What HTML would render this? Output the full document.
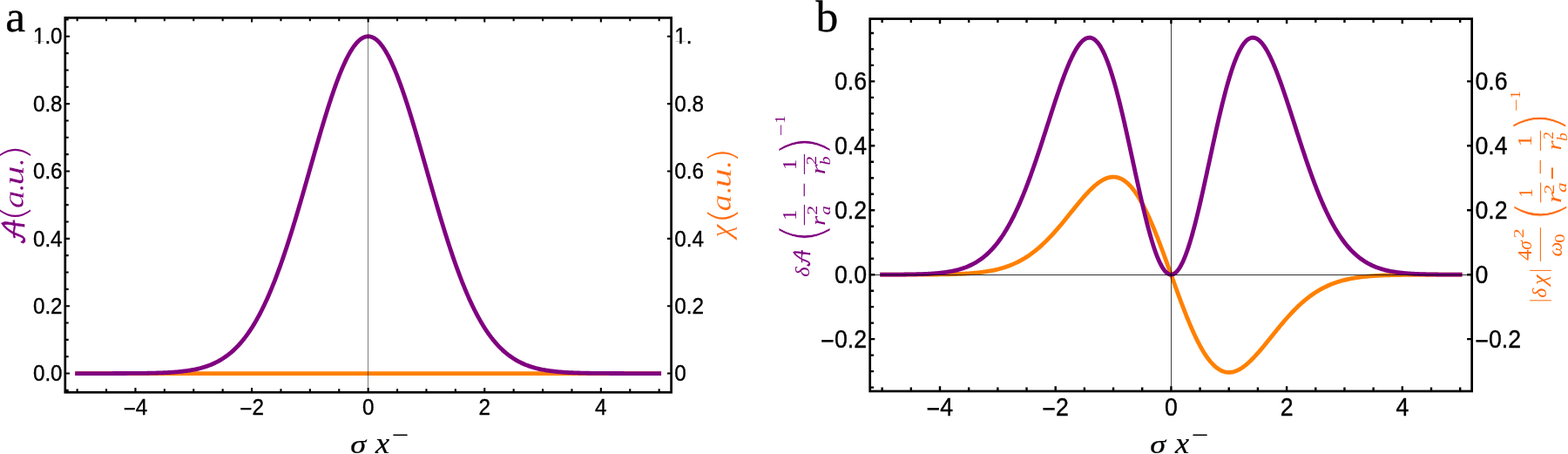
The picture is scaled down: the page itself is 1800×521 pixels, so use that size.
<!DOCTYPE html>
<html><head><meta charset="utf-8"><title>plot</title>
<style>html,body{margin:0;padding:0;background:#fff;}svg{display:block;}</style>
</head><body>
<svg width="1800" height="521" viewBox="0 0 1800 521">
<rect width="1800" height="521" fill="#fff"/>
<polyline fill="none" stroke="#ff8000" stroke-width="4.8" stroke-linecap="square" stroke-linejoin="round" points="88.65,428.55 89.76,428.55 90.88,428.55 91.99,428.55 93.1,428.55 94.22,428.55 95.33,428.55 96.44,428.55 97.56,428.55 98.67,428.55 99.78,428.55 100.9,428.55 102.01,428.55 103.12,428.55 104.24,428.55 105.35,428.55 106.46,428.55 107.58,428.55 108.69,428.55 109.8,428.55 110.92,428.55 112.03,428.55 113.14,428.55 114.26,428.55 115.37,428.55 116.48,428.55 117.6,428.55 118.71,428.55 119.82,428.55 120.94,428.55 122.05,428.55 123.16,428.55 124.28,428.55 125.39,428.55 126.5,428.55 127.62,428.55 128.73,428.55 129.84,428.55 130.96,428.55 132.07,428.55 133.18,428.55 134.3,428.55 135.41,428.55 136.52,428.55 137.64,428.55 138.75,428.55 139.86,428.55 140.98,428.55 142.09,428.55 143.2,428.55 144.32,428.55 145.43,428.55 146.54,428.55 147.66,428.55 148.77,428.55 149.88,428.55 151,428.55 152.11,428.55 153.22,428.55 154.34,428.55 155.45,428.55 156.56,428.55 157.68,428.55 158.79,428.55 159.9,428.55 161.02,428.55 162.13,428.55 163.24,428.55 164.36,428.55 165.47,428.55 166.58,428.55 167.7,428.55 168.81,428.55 169.92,428.55 171.04,428.55 172.15,428.55 173.26,428.55 174.38,428.55 175.49,428.55 176.6,428.55 177.72,428.55 178.83,428.55 179.94,428.55 181.06,428.55 182.17,428.55 183.28,428.55 184.4,428.55 185.51,428.55 186.62,428.55 187.74,428.55 188.85,428.55 189.96,428.55 191.08,428.55 192.19,428.55 193.3,428.55 194.42,428.55 195.53,428.55 196.64,428.55 197.76,428.55 198.87,428.55 199.98,428.55 201.1,428.55 202.21,428.55 203.32,428.55 204.44,428.55 205.55,428.55 206.66,428.55 207.78,428.55 208.89,428.55 210,428.55 211.12,428.55 212.23,428.55 213.34,428.55 214.46,428.55 215.57,428.55 216.68,428.55 217.8,428.55 218.91,428.55 220.02,428.55 221.14,428.55 222.25,428.55 223.36,428.55 224.48,428.55 225.59,428.55 226.7,428.55 227.82,428.55 228.93,428.55 230.04,428.55 231.16,428.55 232.27,428.55 233.38,428.55 234.5,428.55 235.61,428.55 236.72,428.55 237.84,428.55 238.95,428.55 240.06,428.55 241.18,428.55 242.29,428.55 243.4,428.55 244.52,428.55 245.63,428.55 246.74,428.55 247.86,428.55 248.97,428.55 250.08,428.55 251.2,428.55 252.31,428.55 253.42,428.55 254.54,428.55 255.65,428.55 256.76,428.55 257.88,428.55 258.99,428.55 260.1,428.55 261.22,428.55 262.33,428.55 263.44,428.55 264.56,428.55 265.67,428.55 266.78,428.55 267.9,428.55 269.01,428.55 270.12,428.55 271.24,428.55 272.35,428.55 273.46,428.55 274.58,428.55 275.69,428.55 276.8,428.55 277.92,428.55 279.03,428.55 280.14,428.55 281.26,428.55 282.37,428.55 283.48,428.55 284.6,428.55 285.71,428.55 286.82,428.55 287.94,428.55 289.05,428.55 290.16,428.55 291.28,428.55 292.39,428.55 293.5,428.55 294.62,428.55 295.73,428.55 296.84,428.55 297.96,428.55 299.07,428.55 300.18,428.55 301.3,428.55 302.41,428.55 303.52,428.55 304.64,428.55 305.75,428.55 306.86,428.55 307.98,428.55 309.09,428.55 310.2,428.55 311.32,428.55 312.43,428.55 313.54,428.55 314.66,428.55 315.77,428.55 316.88,428.55 318,428.55 319.11,428.55 320.22,428.55 321.34,428.55 322.45,428.55 323.56,428.55 324.68,428.55 325.79,428.55 326.9,428.55 328.02,428.55 329.13,428.55 330.24,428.55 331.36,428.55 332.47,428.55 333.58,428.55 334.7,428.55 335.81,428.55 336.92,428.55 338.04,428.55 339.15,428.55 340.26,428.55 341.38,428.55 342.49,428.55 343.6,428.55 344.72,428.55 345.83,428.55 346.94,428.55 348.06,428.55 349.17,428.55 350.28,428.55 351.4,428.55 352.51,428.55 353.62,428.55 354.74,428.55 355.85,428.55 356.96,428.55 358.08,428.55 359.19,428.55 360.3,428.55 361.42,428.55 362.53,428.55 363.64,428.55 364.76,428.55 365.87,428.55 366.98,428.55 368.1,428.55 369.21,428.55 370.32,428.55 371.44,428.55 372.55,428.55 373.66,428.55 374.78,428.55 375.89,428.55 377,428.55 378.12,428.55 379.23,428.55 380.34,428.55 381.46,428.55 382.57,428.55 383.68,428.55 384.8,428.55 385.91,428.55 387.02,428.55 388.14,428.55 389.25,428.55 390.36,428.55 391.48,428.55 392.59,428.55 393.7,428.55 394.82,428.55 395.93,428.55 397.04,428.55 398.16,428.55 399.27,428.55 400.38,428.55 401.5,428.55 402.61,428.55 403.72,428.55 404.84,428.55 405.95,428.55 407.06,428.55 408.18,428.55 409.29,428.55 410.4,428.55 411.52,428.55 412.63,428.55 413.74,428.55 414.86,428.55 415.97,428.55 417.08,428.55 418.2,428.55 419.31,428.55 420.42,428.55 421.54,428.55 422.65,428.55 423.76,428.55 424.88,428.55 425.99,428.55 427.1,428.55 428.22,428.55 429.33,428.55 430.44,428.55 431.56,428.55 432.67,428.55 433.78,428.55 434.9,428.55 436.01,428.55 437.12,428.55 438.24,428.55 439.35,428.55 440.46,428.55 441.58,428.55 442.69,428.55 443.8,428.55 444.92,428.55 446.03,428.55 447.14,428.55 448.26,428.55 449.37,428.55 450.48,428.55 451.6,428.55 452.71,428.55 453.82,428.55 454.94,428.55 456.05,428.55 457.16,428.55 458.28,428.55 459.39,428.55 460.5,428.55 461.62,428.55 462.73,428.55 463.84,428.55 464.96,428.55 466.07,428.55 467.18,428.55 468.3,428.55 469.41,428.55 470.52,428.55 471.64,428.55 472.75,428.55 473.86,428.55 474.98,428.55 476.09,428.55 477.2,428.55 478.32,428.55 479.43,428.55 480.54,428.55 481.66,428.55 482.77,428.55 483.88,428.55 485,428.55 486.11,428.55 487.22,428.55 488.34,428.55 489.45,428.55 490.56,428.55 491.68,428.55 492.79,428.55 493.9,428.55 495.02,428.55 496.13,428.55 497.24,428.55 498.36,428.55 499.47,428.55 500.58,428.55 501.7,428.55 502.81,428.55 503.92,428.55 505.04,428.55 506.15,428.55 507.26,428.55 508.38,428.55 509.49,428.55 510.6,428.55 511.72,428.55 512.83,428.55 513.94,428.55 515.06,428.55 516.17,428.55 517.28,428.55 518.4,428.55 519.51,428.55 520.62,428.55 521.74,428.55 522.85,428.55 523.96,428.55 525.08,428.55 526.19,428.55 527.3,428.55 528.42,428.55 529.53,428.55 530.64,428.55 531.76,428.55 532.87,428.55 533.98,428.55 535.1,428.55 536.21,428.55 537.32,428.55 538.44,428.55 539.55,428.55 540.66,428.55 541.78,428.55 542.89,428.55 544,428.55 545.12,428.55 546.23,428.55 547.34,428.55 548.46,428.55 549.57,428.55 550.68,428.55 551.8,428.55 552.91,428.55 554.02,428.55 555.14,428.55 556.25,428.55 557.36,428.55 558.48,428.55 559.59,428.55 560.7,428.55 561.82,428.55 562.93,428.55 564.04,428.55 565.16,428.55 566.27,428.55 567.38,428.55 568.5,428.55 569.61,428.55 570.72,428.55 571.84,428.55 572.95,428.55 574.06,428.55 575.18,428.55 576.29,428.55 577.4,428.55 578.52,428.55 579.63,428.55 580.74,428.55 581.86,428.55 582.97,428.55 584.08,428.55 585.2,428.55 586.31,428.55 587.42,428.55 588.54,428.55 589.65,428.55 590.76,428.55 591.88,428.55 592.99,428.55 594.1,428.55 595.22,428.55 596.33,428.55 597.44,428.55 598.56,428.55 599.67,428.55 600.78,428.55 601.9,428.55 603.01,428.55 604.12,428.55 605.24,428.55 606.35,428.55 607.46,428.55 608.58,428.55 609.69,428.55 610.8,428.55 611.92,428.55 613.03,428.55 614.14,428.55 615.26,428.55 616.37,428.55 617.48,428.55 618.6,428.55 619.71,428.55 620.82,428.55 621.94,428.55 623.05,428.55 624.16,428.55 625.28,428.55 626.39,428.55 627.5,428.55 628.62,428.55 629.73,428.55 630.84,428.55 631.96,428.55 633.07,428.55 634.18,428.55 635.3,428.55 636.41,428.55 637.52,428.55 638.64,428.55 639.75,428.55 640.86,428.55 641.98,428.55 643.09,428.55 644.2,428.55 645.32,428.55 646.43,428.55 647.54,428.55 648.66,428.55 649.77,428.55 650.88,428.55 652,428.55 653.11,428.55 654.22,428.55 655.34,428.55 656.45,428.55 657.56,428.55 658.68,428.55 659.79,428.55 660.9,428.55 662.02,428.55 663.13,428.55 664.24,428.55 665.36,428.55 666.47,428.55 667.58,428.55 668.7,428.55 669.81,428.55 670.92,428.55 672.04,428.55 673.15,428.55 674.26,428.55 675.38,428.55 676.49,428.55 677.6,428.55 678.72,428.55 679.83,428.55 680.94,428.55 682.06,428.55 683.17,428.55 684.28,428.55 685.4,428.55 686.51,428.55 687.62,428.55 688.74,428.55 689.85,428.55 690.96,428.55 692.08,428.55 693.19,428.55 694.3,428.55 695.42,428.55 696.53,428.55 697.64,428.55 698.76,428.55 699.87,428.55 700.98,428.55 702.1,428.55 703.21,428.55 704.32,428.55 705.44,428.55 706.55,428.55 707.66,428.55 708.78,428.55 709.89,428.55 711,428.55 712.12,428.55 713.23,428.55 714.34,428.55 715.46,428.55 716.57,428.55 717.68,428.55 718.8,428.55 719.91,428.55 721.02,428.55 722.14,428.55 723.25,428.55 724.36,428.55 725.48,428.55 726.59,428.55 727.7,428.55 728.82,428.55 729.93,428.55 731.04,428.55 732.16,428.55 733.27,428.55 734.38,428.55 735.5,428.55 736.61,428.55 737.72,428.55 738.84,428.55 739.95,428.55 741.06,428.55 742.18,428.55 743.29,428.55 744.4,428.55 745.52,428.55 746.63,428.55 747.74,428.55 748.86,428.55 749.97,428.55 751.08,428.55 752.2,428.55 753.31,428.55 754.42,428.55 755.54,428.55 756.65,428.55"/>
<polyline fill="none" stroke="#800080" stroke-width="4.8" stroke-linecap="square" stroke-linejoin="round" points="88.65,428.55 89.76,428.55 90.88,428.55 91.99,428.55 93.1,428.55 94.22,428.55 95.33,428.55 96.44,428.55 97.56,428.55 98.67,428.55 99.78,428.55 100.9,428.55 102.01,428.55 103.12,428.55 104.24,428.55 105.35,428.55 106.46,428.54 107.58,428.54 108.69,428.54 109.8,428.54 110.92,428.54 112.03,428.54 113.14,428.54 114.26,428.54 115.37,428.54 116.48,428.54 117.6,428.54 118.71,428.54 119.82,428.54 120.94,428.54 122.05,428.53 123.16,428.53 124.28,428.53 125.39,428.53 126.5,428.53 127.62,428.53 128.73,428.53 129.84,428.52 130.96,428.52 132.07,428.52 133.18,428.52 134.3,428.52 135.41,428.51 136.52,428.51 137.64,428.51 138.75,428.5 139.86,428.5 140.98,428.5 142.09,428.49 143.2,428.49 144.32,428.48 145.43,428.48 146.54,428.47 147.66,428.47 148.77,428.46 149.88,428.46 151,428.45 152.11,428.44 153.22,428.44 154.34,428.43 155.45,428.42 156.56,428.41 157.68,428.4 158.79,428.39 159.9,428.38 161.02,428.37 162.13,428.36 163.24,428.34 164.36,428.33 165.47,428.32 166.58,428.3 167.7,428.28 168.81,428.27 169.92,428.25 171.04,428.23 172.15,428.21 173.26,428.19 174.38,428.16 175.49,428.14 176.6,428.11 177.72,428.08 178.83,428.06 179.94,428.02 181.06,427.99 182.17,427.96 183.28,427.92 184.4,427.88 185.51,427.84 186.62,427.8 187.74,427.75 188.85,427.7 189.96,427.65 191.08,427.6 192.19,427.54 193.3,427.48 194.42,427.42 195.53,427.36 196.64,427.29 197.76,427.21 198.87,427.14 199.98,427.05 201.1,426.97 202.21,426.88 203.32,426.79 204.44,426.69 205.55,426.58 206.66,426.47 207.78,426.36 208.89,426.24 210,426.11 211.12,425.98 212.23,425.84 213.34,425.7 214.46,425.54 215.57,425.38 216.68,425.22 217.8,425.04 218.91,424.86 220.02,424.66 221.14,424.46 222.25,424.25 223.36,424.03 224.48,423.8 225.59,423.56 226.7,423.31 227.82,423.05 228.93,422.78 230.04,422.49 231.16,422.2 232.27,421.89 233.38,421.56 234.5,421.23 235.61,420.88 236.72,420.51 237.84,420.13 238.95,419.73 240.06,419.32 241.18,418.89 242.29,418.45 243.4,417.98 244.52,417.5 245.63,417 246.74,416.48 247.86,415.94 248.97,415.38 250.08,414.8 251.2,414.2 252.31,413.57 253.42,412.92 254.54,412.25 255.65,411.56 256.76,410.83 257.88,410.09 258.99,409.32 260.1,408.52 261.22,407.69 262.33,406.84 263.44,405.95 264.56,405.04 265.67,404.1 266.78,403.13 267.9,402.12 269.01,401.09 270.12,400.02 271.24,398.91 272.35,397.78 273.46,396.6 274.58,395.4 275.69,394.16 276.8,392.88 277.92,391.56 279.03,390.2 280.14,388.81 281.26,387.38 282.37,385.91 283.48,384.39 284.6,382.84 285.71,381.24 286.82,379.61 287.94,377.93 289.05,376.2 290.16,374.44 291.28,372.62 292.39,370.77 293.5,368.87 294.62,366.92 295.73,364.93 296.84,362.89 297.96,360.81 299.07,358.68 300.18,356.5 301.3,354.28 302.41,352 303.52,349.68 304.64,347.31 305.75,344.9 306.86,342.43 307.98,339.92 309.09,337.36 310.2,334.76 311.32,332.1 312.43,329.4 313.54,326.65 314.66,323.85 315.77,321.01 316.88,318.11 318,315.18 319.11,312.19 320.22,309.17 321.34,306.09 322.45,302.97 323.56,299.81 324.68,296.61 325.79,293.36 326.9,290.08 328.02,286.75 329.13,283.38 330.24,279.97 331.36,276.53 332.47,273.05 333.58,269.53 334.7,265.98 335.81,262.4 336.92,258.78 338.04,255.14 339.15,251.46 340.26,247.76 341.38,244.03 342.49,240.27 343.6,236.5 344.72,232.7 345.83,228.88 346.94,225.05 348.06,221.19 349.17,217.33 350.28,213.45 351.4,209.56 352.51,205.66 353.62,201.76 354.74,197.85 355.85,193.94 356.96,190.03 358.08,186.13 359.19,182.22 360.3,178.33 361.42,174.44 362.53,170.56 363.64,166.7 364.76,162.85 365.87,159.03 366.98,155.22 368.1,151.43 369.21,147.68 370.32,143.95 371.44,140.25 372.55,136.58 373.66,132.95 374.78,129.35 375.89,125.8 377,122.29 378.12,118.82 379.23,115.41 380.34,112.04 381.46,108.73 382.57,105.47 383.68,102.27 384.8,99.12 385.91,96.04 387.02,93.03 388.14,90.08 389.25,87.2 390.36,84.39 391.48,81.66 392.59,79 393.7,76.41 394.82,73.91 395.93,71.49 397.04,69.15 398.16,66.9 399.27,64.73 400.38,62.65 401.5,60.67 402.61,58.77 403.72,56.97 404.84,55.26 405.95,53.65 407.06,52.14 408.18,50.72 409.29,49.41 410.4,48.2 411.52,47.09 412.63,46.08 413.74,45.17 414.86,44.37 415.97,43.68 417.08,43.09 418.2,42.61 419.31,42.23 420.42,41.96 421.54,41.8 422.65,41.75 423.76,41.8 424.88,41.96 425.99,42.23 427.1,42.61 428.22,43.09 429.33,43.68 430.44,44.37 431.56,45.17 432.67,46.08 433.78,47.09 434.9,48.2 436.01,49.41 437.12,50.72 438.24,52.14 439.35,53.65 440.46,55.26 441.58,56.97 442.69,58.77 443.8,60.67 444.92,62.65 446.03,64.73 447.14,66.9 448.26,69.15 449.37,71.49 450.48,73.91 451.6,76.41 452.71,79 453.82,81.66 454.94,84.39 456.05,87.2 457.16,90.08 458.28,93.03 459.39,96.04 460.5,99.12 461.62,102.27 462.73,105.47 463.84,108.73 464.96,112.04 466.07,115.41 467.18,118.82 468.3,122.29 469.41,125.8 470.52,129.35 471.64,132.95 472.75,136.58 473.86,140.25 474.98,143.95 476.09,147.68 477.2,151.43 478.32,155.22 479.43,159.03 480.54,162.85 481.66,166.7 482.77,170.56 483.88,174.44 485,178.33 486.11,182.22 487.22,186.13 488.34,190.03 489.45,193.94 490.56,197.85 491.68,201.76 492.79,205.66 493.9,209.56 495.02,213.45 496.13,217.33 497.24,221.19 498.36,225.05 499.47,228.88 500.58,232.7 501.7,236.5 502.81,240.27 503.92,244.03 505.04,247.76 506.15,251.46 507.26,255.14 508.38,258.78 509.49,262.4 510.6,265.98 511.72,269.53 512.83,273.05 513.94,276.53 515.06,279.97 516.17,283.38 517.28,286.75 518.4,290.08 519.51,293.36 520.62,296.61 521.74,299.81 522.85,302.97 523.96,306.09 525.08,309.17 526.19,312.19 527.3,315.18 528.42,318.11 529.53,321.01 530.64,323.85 531.76,326.65 532.87,329.4 533.98,332.1 535.1,334.76 536.21,337.36 537.32,339.92 538.44,342.43 539.55,344.9 540.66,347.31 541.78,349.68 542.89,352 544,354.28 545.12,356.5 546.23,358.68 547.34,360.81 548.46,362.89 549.57,364.93 550.68,366.92 551.8,368.87 552.91,370.77 554.02,372.62 555.14,374.44 556.25,376.2 557.36,377.93 558.48,379.61 559.59,381.24 560.7,382.84 561.82,384.39 562.93,385.91 564.04,387.38 565.16,388.81 566.27,390.2 567.38,391.56 568.5,392.88 569.61,394.16 570.72,395.4 571.84,396.6 572.95,397.78 574.06,398.91 575.18,400.02 576.29,401.09 577.4,402.12 578.52,403.13 579.63,404.1 580.74,405.04 581.86,405.95 582.97,406.84 584.08,407.69 585.2,408.52 586.31,409.32 587.42,410.09 588.54,410.83 589.65,411.56 590.76,412.25 591.88,412.92 592.99,413.57 594.1,414.2 595.22,414.8 596.33,415.38 597.44,415.94 598.56,416.48 599.67,417 600.78,417.5 601.9,417.98 603.01,418.45 604.12,418.89 605.24,419.32 606.35,419.73 607.46,420.13 608.58,420.51 609.69,420.88 610.8,421.23 611.92,421.56 613.03,421.89 614.14,422.2 615.26,422.49 616.37,422.78 617.48,423.05 618.6,423.31 619.71,423.56 620.82,423.8 621.94,424.03 623.05,424.25 624.16,424.46 625.28,424.66 626.39,424.86 627.5,425.04 628.62,425.22 629.73,425.38 630.84,425.54 631.96,425.7 633.07,425.84 634.18,425.98 635.3,426.11 636.41,426.24 637.52,426.36 638.64,426.47 639.75,426.58 640.86,426.69 641.98,426.79 643.09,426.88 644.2,426.97 645.32,427.05 646.43,427.14 647.54,427.21 648.66,427.29 649.77,427.36 650.88,427.42 652,427.48 653.11,427.54 654.22,427.6 655.34,427.65 656.45,427.7 657.56,427.75 658.68,427.8 659.79,427.84 660.9,427.88 662.02,427.92 663.13,427.96 664.24,427.99 665.36,428.02 666.47,428.06 667.58,428.08 668.7,428.11 669.81,428.14 670.92,428.16 672.04,428.19 673.15,428.21 674.26,428.23 675.38,428.25 676.49,428.27 677.6,428.28 678.72,428.3 679.83,428.32 680.94,428.33 682.06,428.34 683.17,428.36 684.28,428.37 685.4,428.38 686.51,428.39 687.62,428.4 688.74,428.41 689.85,428.42 690.96,428.43 692.08,428.44 693.19,428.44 694.3,428.45 695.42,428.46 696.53,428.46 697.64,428.47 698.76,428.47 699.87,428.48 700.98,428.48 702.1,428.49 703.21,428.49 704.32,428.5 705.44,428.5 706.55,428.5 707.66,428.51 708.78,428.51 709.89,428.51 711,428.52 712.12,428.52 713.23,428.52 714.34,428.52 715.46,428.52 716.57,428.53 717.68,428.53 718.8,428.53 719.91,428.53 721.02,428.53 722.14,428.53 723.25,428.53 724.36,428.54 725.48,428.54 726.59,428.54 727.7,428.54 728.82,428.54 729.93,428.54 731.04,428.54 732.16,428.54 733.27,428.54 734.38,428.54 735.5,428.54 736.61,428.54 737.72,428.54 738.84,428.54 739.95,428.55 741.06,428.55 742.18,428.55 743.29,428.55 744.4,428.55 745.52,428.55 746.63,428.55 747.74,428.55 748.86,428.55 749.97,428.55 751.08,428.55 752.2,428.55 753.31,428.55 754.42,428.55 755.54,428.55 756.65,428.55"/>
<rect x="422" y="21.4" width="1" height="427.85" fill="#000" fill-opacity="0.5"/>
<path d="M155.45 450.25L155.45 445.05 M155.45 20.4L155.45 25.6 M289.05 450.25L289.05 445.05 M289.05 20.4L289.05 25.6 M422.65 450.25L422.65 445.05 M422.65 20.4L422.65 25.6 M556.25 450.25L556.25 445.05 M556.25 20.4L556.25 25.6 M689.85 450.25L689.85 445.05 M689.85 20.4L689.85 25.6 M88.65 450.25L88.65 446.35 M88.65 20.4L88.65 24.3 M122.05 450.25L122.05 446.35 M122.05 20.4L122.05 24.3 M188.85 450.25L188.85 446.35 M188.85 20.4L188.85 24.3 M222.25 450.25L222.25 446.35 M222.25 20.4L222.25 24.3 M255.65 450.25L255.65 446.35 M255.65 20.4L255.65 24.3 M322.45 450.25L322.45 446.35 M322.45 20.4L322.45 24.3 M355.85 450.25L355.85 446.35 M355.85 20.4L355.85 24.3 M389.25 450.25L389.25 446.35 M389.25 20.4L389.25 24.3 M456.05 450.25L456.05 446.35 M456.05 20.4L456.05 24.3 M489.45 450.25L489.45 446.35 M489.45 20.4L489.45 24.3 M522.85 450.25L522.85 446.35 M522.85 20.4L522.85 24.3 M589.65 450.25L589.65 446.35 M589.65 20.4L589.65 24.3 M623.05 450.25L623.05 446.35 M623.05 20.4L623.05 24.3 M656.45 450.25L656.45 446.35 M656.45 20.4L656.45 24.3 M723.25 450.25L723.25 446.35 M723.25 20.4L723.25 24.3 M756.65 450.25L756.65 446.35 M756.65 20.4L756.65 24.3 M74.8 428.55L80 428.55 M770.6 428.55L766 428.55 M74.8 351.19L80 351.19 M770.6 351.19L766 351.19 M74.8 273.83L80 273.83 M770.6 273.83L766 273.83 M74.8 196.47L80 196.47 M770.6 196.47L766 196.47 M74.8 119.11L80 119.11 M770.6 119.11L766 119.11 M74.8 41.75L80 41.75 M770.6 41.75L766 41.75 M74.8 447.89L78.7 447.89 M74.8 409.21L78.7 409.21 M74.8 389.87L78.7 389.87 M74.8 370.53L78.7 370.53 M74.8 331.85L78.7 331.85 M74.8 312.51L78.7 312.51 M74.8 293.17L78.7 293.17 M74.8 254.49L78.7 254.49 M74.8 235.15L78.7 235.15 M74.8 215.81L78.7 215.81 M74.8 177.13L78.7 177.13 M74.8 157.79L78.7 157.79 M74.8 138.45L78.7 138.45 M74.8 99.77L78.7 99.77 M74.8 80.43L78.7 80.43 M74.8 61.09L78.7 61.09 M74.8 22.41L78.7 22.41" stroke="#000" stroke-width="2.1" fill="none"/>
<rect x="74.8" y="20.4" width="695.8" height="429.85" fill="none" stroke="#000" stroke-width="2.7"/>
<text transform="translate(71.6 437.25) scale(1.01 1.09)" font-size="24" text-anchor="end" stroke="#000" stroke-width="0.35" font-family="Liberation Sans, Arial, sans-serif">0.0</text>
<text transform="translate(71.6 359.89) scale(1.01 1.09)" font-size="24" text-anchor="end" stroke="#000" stroke-width="0.35" font-family="Liberation Sans, Arial, sans-serif">0.2</text>
<text transform="translate(71.6 282.53) scale(1.01 1.09)" font-size="24" text-anchor="end" stroke="#000" stroke-width="0.35" font-family="Liberation Sans, Arial, sans-serif">0.4</text>
<text transform="translate(71.6 205.17) scale(1.01 1.09)" font-size="24" text-anchor="end" stroke="#000" stroke-width="0.35" font-family="Liberation Sans, Arial, sans-serif">0.6</text>
<text transform="translate(71.6 127.81) scale(1.01 1.09)" font-size="24" text-anchor="end" stroke="#000" stroke-width="0.35" font-family="Liberation Sans, Arial, sans-serif">0.8</text>
<text transform="translate(71.6 50.45) scale(1.01 1.09)" font-size="24" text-anchor="end" stroke="#000" stroke-width="0.35" font-family="Liberation Sans, Arial, sans-serif">1.0</text>
<text transform="translate(774.2 437.25) scale(1.01 1.09)" font-size="24" text-anchor="start" stroke="#000" stroke-width="0.35" font-family="Liberation Sans, Arial, sans-serif">0</text>
<text transform="translate(774.2 359.89) scale(1.01 1.09)" font-size="24" text-anchor="start" stroke="#000" stroke-width="0.35" font-family="Liberation Sans, Arial, sans-serif">0.2</text>
<text transform="translate(774.2 282.53) scale(1.01 1.09)" font-size="24" text-anchor="start" stroke="#000" stroke-width="0.35" font-family="Liberation Sans, Arial, sans-serif">0.4</text>
<text transform="translate(774.2 205.17) scale(1.01 1.09)" font-size="24" text-anchor="start" stroke="#000" stroke-width="0.35" font-family="Liberation Sans, Arial, sans-serif">0.6</text>
<text transform="translate(774.2 127.81) scale(1.01 1.09)" font-size="24" text-anchor="start" stroke="#000" stroke-width="0.35" font-family="Liberation Sans, Arial, sans-serif">0.8</text>
<text transform="translate(774.2 50.45) scale(1.01 1.09)" font-size="24" text-anchor="start" stroke="#000" stroke-width="0.35" font-family="Liberation Sans, Arial, sans-serif">1.</text>
<text transform="translate(155.45 475.8) scale(1.01 1.09)" font-size="24" text-anchor="middle" stroke="#000" stroke-width="0.35" font-family="Liberation Sans, Arial, sans-serif"><tspan dy="2.1">−</tspan><tspan dy="-2.1">4</tspan></text>
<text transform="translate(289.05 475.8) scale(1.01 1.09)" font-size="24" text-anchor="middle" stroke="#000" stroke-width="0.35" font-family="Liberation Sans, Arial, sans-serif"><tspan dy="2.1">−</tspan><tspan dy="-2.1">2</tspan></text>
<text transform="translate(422.65 475.8) scale(1.01 1.09)" font-size="24" text-anchor="middle" stroke="#000" stroke-width="0.35" font-family="Liberation Sans, Arial, sans-serif">0</text>
<text transform="translate(556.25 475.8) scale(1.01 1.09)" font-size="24" text-anchor="middle" stroke="#000" stroke-width="0.35" font-family="Liberation Sans, Arial, sans-serif">2</text>
<text transform="translate(689.85 475.8) scale(1.01 1.09)" font-size="24" text-anchor="middle" stroke="#000" stroke-width="0.35" font-family="Liberation Sans, Arial, sans-serif">4</text>
<rect x="38.97" y="48" width="4.85" height="3" fill="#fff"/>
<rect x="46.32" y="48" width="4.72" height="3" fill="#fff"/>
<rect x="775.27" y="48" width="4.85" height="3" fill="#fff"/>
<rect x="782.62" y="48" width="4.72" height="3" fill="#fff"/>
<polyline fill="none" stroke="#ff8000" stroke-width="4.8" stroke-linecap="square" stroke-linejoin="round" points="1012.65,315.2 1013.76,315.2 1014.86,315.2 1015.97,315.2 1017.07,315.2 1018.18,315.19 1019.29,315.19 1020.39,315.19 1021.5,315.19 1022.6,315.19 1023.71,315.19 1024.81,315.19 1025.92,315.19 1027.03,315.19 1028.13,315.19 1029.24,315.19 1030.34,315.19 1031.45,315.19 1032.56,315.19 1033.66,315.19 1034.77,315.18 1035.87,315.18 1036.98,315.18 1038.08,315.18 1039.19,315.18 1040.3,315.18 1041.4,315.18 1042.51,315.17 1043.61,315.17 1044.72,315.17 1045.83,315.17 1046.93,315.16 1048.04,315.16 1049.14,315.16 1050.25,315.16 1051.35,315.15 1052.46,315.15 1053.57,315.15 1054.67,315.14 1055.78,315.14 1056.88,315.13 1057.99,315.13 1059.1,315.12 1060.2,315.12 1061.31,315.11 1062.41,315.11 1063.52,315.1 1064.62,315.09 1065.73,315.09 1066.84,315.08 1067.94,315.07 1069.05,315.06 1070.15,315.05 1071.26,315.04 1072.37,315.03 1073.47,315.02 1074.58,315.01 1075.68,314.99 1076.79,314.98 1077.89,314.97 1079,314.95 1080.11,314.94 1081.21,314.92 1082.32,314.9 1083.42,314.88 1084.53,314.86 1085.64,314.84 1086.74,314.82 1087.85,314.79 1088.95,314.77 1090.06,314.74 1091.16,314.72 1092.27,314.69 1093.38,314.65 1094.48,314.62 1095.59,314.59 1096.69,314.55 1097.8,314.51 1098.91,314.47 1100.01,314.43 1101.12,314.38 1102.22,314.34 1103.33,314.29 1104.43,314.23 1105.54,314.18 1106.65,314.12 1107.75,314.06 1108.86,314 1109.96,313.93 1111.07,313.86 1112.18,313.78 1113.28,313.71 1114.39,313.63 1115.49,313.54 1116.6,313.45 1117.7,313.36 1118.81,313.26 1119.92,313.16 1121.02,313.05 1122.13,312.94 1123.23,312.82 1124.34,312.69 1125.45,312.57 1126.55,312.43 1127.66,312.29 1128.76,312.14 1129.87,311.99 1130.97,311.83 1132.08,311.67 1133.19,311.49 1134.29,311.31 1135.4,311.12 1136.5,310.93 1137.61,310.72 1138.72,310.51 1139.82,310.29 1140.93,310.06 1142.03,309.82 1143.14,309.57 1144.24,309.31 1145.35,309.04 1146.46,308.76 1147.56,308.47 1148.67,308.17 1149.77,307.86 1150.88,307.54 1151.99,307.2 1153.09,306.85 1154.2,306.5 1155.3,306.12 1156.41,305.74 1157.51,305.34 1158.62,304.93 1159.73,304.51 1160.83,304.07 1161.94,303.61 1163.04,303.14 1164.15,302.66 1165.26,302.16 1166.36,301.65 1167.47,301.12 1168.57,300.57 1169.68,300.01 1170.78,299.43 1171.89,298.84 1173,298.22 1174.1,297.59 1175.21,296.95 1176.31,296.28 1177.42,295.6 1178.53,294.9 1179.63,294.18 1180.74,293.44 1181.84,292.68 1182.95,291.9 1184.05,291.11 1185.16,290.3 1186.27,289.46 1187.37,288.61 1188.48,287.74 1189.58,286.85 1190.69,285.94 1191.8,285.01 1192.9,284.06 1194.01,283.1 1195.11,282.11 1196.22,281.1 1197.32,280.08 1198.43,279.04 1199.54,277.98 1200.64,276.9 1201.75,275.8 1202.85,274.68 1203.96,273.55 1205.07,272.4 1206.17,271.24 1207.28,270.05 1208.38,268.85 1209.49,267.64 1210.59,266.41 1211.7,265.17 1212.81,263.91 1213.91,262.64 1215.02,261.35 1216.12,260.06 1217.23,258.75 1218.34,257.43 1219.44,256.11 1220.55,254.77 1221.65,253.43 1222.76,252.07 1223.86,250.72 1224.97,249.35 1226.08,247.99 1227.18,246.61 1228.29,245.24 1229.39,243.87 1230.5,242.49 1231.61,241.12 1232.71,239.75 1233.82,238.38 1234.92,237.02 1236.03,235.66 1237.13,234.31 1238.24,232.97 1239.35,231.64 1240.45,230.32 1241.56,229.01 1242.66,227.72 1243.77,226.44 1244.88,225.18 1245.98,223.94 1247.09,222.72 1248.19,221.52 1249.3,220.35 1250.4,219.2 1251.51,218.07 1252.62,216.98 1253.72,215.91 1254.83,214.88 1255.93,213.87 1257.04,212.91 1258.15,211.98 1259.25,211.08 1260.36,210.23 1261.46,209.41 1262.57,208.64 1263.67,207.91 1264.78,207.23 1265.89,206.59 1266.99,206 1268.1,205.47 1269.2,204.98 1270.31,204.54 1271.42,204.16 1272.52,203.84 1273.63,203.57 1274.73,203.36 1275.84,203.21 1276.94,203.11 1278.05,203.08 1279.16,203.11 1280.26,203.21 1281.37,203.37 1282.47,203.59 1283.58,203.88 1284.69,204.24 1285.79,204.66 1286.9,205.16 1288,205.72 1289.11,206.35 1290.21,207.05 1291.32,207.82 1292.43,208.66 1293.53,209.57 1294.64,210.55 1295.74,211.6 1296.85,212.73 1297.96,213.92 1299.06,215.19 1300.17,216.52 1301.27,217.93 1302.38,219.4 1303.48,220.95 1304.59,222.56 1305.7,224.24 1306.8,225.99 1307.91,227.8 1309.01,229.68 1310.12,231.63 1311.23,233.64 1312.33,235.71 1313.44,237.84 1314.54,240.03 1315.65,242.28 1316.75,244.58 1317.86,246.94 1318.97,249.36 1320.07,251.83 1321.18,254.35 1322.28,256.91 1323.39,259.53 1324.5,262.19 1325.6,264.89 1326.71,267.63 1327.81,270.41 1328.92,273.23 1330.02,276.08 1331.13,278.96 1332.24,281.88 1333.34,284.82 1334.45,287.78 1335.55,290.77 1336.66,293.78 1337.77,296.81 1338.87,299.85 1339.98,302.9 1341.08,305.97 1342.19,309.04 1343.29,312.12 1344.4,315.2 1345.51,318.28 1346.61,321.36 1347.72,324.43 1348.82,327.5 1349.93,330.55 1351.04,333.59 1352.14,336.62 1353.25,339.63 1354.35,342.62 1355.46,345.58 1356.56,348.52 1357.67,351.44 1358.78,354.32 1359.88,357.17 1360.99,359.99 1362.09,362.77 1363.2,365.51 1364.31,368.21 1365.41,370.87 1366.52,373.49 1367.62,376.05 1368.73,378.57 1369.83,381.04 1370.94,383.46 1372.05,385.82 1373.15,388.12 1374.26,390.37 1375.36,392.56 1376.47,394.69 1377.58,396.76 1378.68,398.77 1379.79,400.72 1380.89,402.6 1382,404.41 1383.1,406.16 1384.21,407.84 1385.32,409.45 1386.42,411 1387.53,412.47 1388.63,413.88 1389.74,415.21 1390.85,416.48 1391.95,417.67 1393.06,418.8 1394.16,419.85 1395.27,420.83 1396.37,421.74 1397.48,422.58 1398.59,423.35 1399.69,424.05 1400.8,424.68 1401.9,425.24 1403.01,425.74 1404.12,426.16 1405.22,426.52 1406.33,426.81 1407.43,427.03 1408.54,427.19 1409.64,427.29 1410.75,427.32 1411.86,427.29 1412.96,427.19 1414.07,427.04 1415.17,426.83 1416.28,426.56 1417.38,426.24 1418.49,425.86 1419.6,425.42 1420.7,424.93 1421.81,424.4 1422.91,423.81 1424.02,423.17 1425.13,422.49 1426.23,421.76 1427.34,420.99 1428.44,420.17 1429.55,419.32 1430.65,418.42 1431.76,417.49 1432.87,416.53 1433.97,415.52 1435.08,414.49 1436.18,413.42 1437.29,412.33 1438.4,411.2 1439.5,410.05 1440.61,408.88 1441.71,407.68 1442.82,406.46 1443.93,405.22 1445.03,403.96 1446.14,402.68 1447.24,401.39 1448.35,400.08 1449.45,398.76 1450.56,397.43 1451.67,396.09 1452.77,394.74 1453.88,393.38 1454.98,392.02 1456.09,390.65 1457.2,389.28 1458.3,387.91 1459.41,386.53 1460.51,385.16 1461.62,383.79 1462.72,382.41 1463.83,381.05 1464.94,379.68 1466.04,378.33 1467.15,376.97 1468.25,375.63 1469.36,374.29 1470.47,372.97 1471.57,371.65 1472.68,370.34 1473.78,369.05 1474.89,367.76 1475.99,366.49 1477.1,365.23 1478.21,363.99 1479.31,362.76 1480.42,361.55 1481.52,360.35 1482.63,359.16 1483.74,358 1484.84,356.85 1485.95,355.72 1487.05,354.6 1488.16,353.5 1489.26,352.42 1490.37,351.36 1491.48,350.32 1492.58,349.3 1493.69,348.29 1494.79,347.3 1495.9,346.34 1497.01,345.39 1498.11,344.46 1499.22,343.55 1500.32,342.66 1501.43,341.79 1502.53,340.94 1503.64,340.1 1504.75,339.29 1505.85,338.5 1506.96,337.72 1508.06,336.96 1509.17,336.22 1510.28,335.5 1511.38,334.8 1512.49,334.12 1513.59,333.45 1514.7,332.81 1515.8,332.18 1516.91,331.56 1518.02,330.97 1519.12,330.39 1520.23,329.83 1521.33,329.28 1522.44,328.75 1523.55,328.24 1524.65,327.74 1525.76,327.26 1526.86,326.79 1527.97,326.33 1529.07,325.89 1530.18,325.47 1531.29,325.06 1532.39,324.66 1533.5,324.28 1534.6,323.9 1535.71,323.55 1536.82,323.2 1537.92,322.86 1539.03,322.54 1540.13,322.23 1541.24,321.93 1542.34,321.64 1543.45,321.36 1544.56,321.09 1545.66,320.83 1546.77,320.58 1547.87,320.34 1548.98,320.11 1550.09,319.89 1551.19,319.68 1552.3,319.47 1553.4,319.28 1554.51,319.09 1555.61,318.91 1556.72,318.73 1557.83,318.57 1558.93,318.41 1560.04,318.26 1561.14,318.11 1562.25,317.97 1563.36,317.83 1564.46,317.71 1565.57,317.58 1566.67,317.46 1567.78,317.35 1568.88,317.24 1569.99,317.14 1571.1,317.04 1572.2,316.95 1573.31,316.86 1574.41,316.77 1575.52,316.69 1576.62,316.62 1577.73,316.54 1578.84,316.47 1579.94,316.4 1581.05,316.34 1582.15,316.28 1583.26,316.22 1584.37,316.17 1585.47,316.11 1586.58,316.06 1587.68,316.02 1588.79,315.97 1589.89,315.93 1591,315.89 1592.11,315.85 1593.21,315.81 1594.32,315.78 1595.42,315.75 1596.53,315.71 1597.64,315.68 1598.74,315.66 1599.85,315.63 1600.95,315.61 1602.06,315.58 1603.16,315.56 1604.27,315.54 1605.38,315.52 1606.48,315.5 1607.59,315.48 1608.69,315.46 1609.8,315.45 1610.91,315.43 1612.01,315.42 1613.12,315.41 1614.22,315.39 1615.33,315.38 1616.43,315.37 1617.54,315.36 1618.65,315.35 1619.75,315.34 1620.86,315.33 1621.96,315.32 1623.07,315.31 1624.18,315.31 1625.28,315.3 1626.39,315.29 1627.49,315.29 1628.6,315.28 1629.71,315.28 1630.81,315.27 1631.92,315.27 1633.02,315.26 1634.13,315.26 1635.23,315.25 1636.34,315.25 1637.45,315.25 1638.55,315.24 1639.66,315.24 1640.76,315.24 1641.87,315.24 1642.98,315.23 1644.08,315.23 1645.19,315.23 1646.29,315.23 1647.4,315.22 1648.5,315.22 1649.61,315.22 1650.72,315.22 1651.82,315.22 1652.93,315.22 1654.03,315.22 1655.14,315.21 1656.24,315.21 1657.35,315.21 1658.46,315.21 1659.56,315.21 1660.67,315.21 1661.77,315.21 1662.88,315.21 1663.99,315.21 1665.09,315.21 1666.2,315.21 1667.3,315.21 1668.41,315.21 1669.52,315.21 1670.62,315.21 1671.73,315.2 1672.83,315.2 1673.94,315.2 1675.04,315.2 1676.15,315.2"/>
<polyline fill="none" stroke="#800080" stroke-width="4.8" stroke-linecap="square" stroke-linejoin="round" points="1012.65,315.17 1013.76,315.16 1014.86,315.16 1015.97,315.16 1017.07,315.15 1018.18,315.15 1019.29,315.15 1020.39,315.14 1021.5,315.14 1022.6,315.13 1023.71,315.13 1024.81,315.12 1025.92,315.12 1027.03,315.11 1028.13,315.1 1029.24,315.09 1030.34,315.09 1031.45,315.08 1032.56,315.07 1033.66,315.06 1034.77,315.05 1035.87,315.04 1036.98,315.03 1038.08,315.01 1039.19,315 1040.3,314.99 1041.4,314.97 1042.51,314.96 1043.61,314.94 1044.72,314.92 1045.83,314.9 1046.93,314.88 1048.04,314.86 1049.14,314.83 1050.25,314.81 1051.35,314.78 1052.46,314.75 1053.57,314.72 1054.67,314.69 1055.78,314.66 1056.88,314.62 1057.99,314.58 1059.1,314.54 1060.2,314.5 1061.31,314.45 1062.41,314.4 1063.52,314.35 1064.62,314.29 1065.73,314.24 1066.84,314.17 1067.94,314.11 1069.05,314.04 1070.15,313.97 1071.26,313.89 1072.37,313.81 1073.47,313.72 1074.58,313.63 1075.68,313.54 1076.79,313.44 1077.89,313.33 1079,313.22 1080.11,313.1 1081.21,312.97 1082.32,312.84 1083.42,312.7 1084.53,312.55 1085.64,312.4 1086.74,312.24 1087.85,312.07 1088.95,311.89 1090.06,311.7 1091.16,311.5 1092.27,311.29 1093.38,311.07 1094.48,310.85 1095.59,310.61 1096.69,310.35 1097.8,310.09 1098.91,309.81 1100.01,309.52 1101.12,309.22 1102.22,308.9 1103.33,308.56 1104.43,308.22 1105.54,307.85 1106.65,307.47 1107.75,307.07 1108.86,306.66 1109.96,306.22 1111.07,305.77 1112.18,305.29 1113.28,304.8 1114.39,304.28 1115.49,303.75 1116.6,303.19 1117.7,302.61 1118.81,302 1119.92,301.37 1121.02,300.71 1122.13,300.03 1123.23,299.32 1124.34,298.58 1125.45,297.82 1126.55,297.02 1127.66,296.2 1128.76,295.34 1129.87,294.45 1130.97,293.53 1132.08,292.58 1133.19,291.59 1134.29,290.57 1135.4,289.51 1136.5,288.41 1137.61,287.28 1138.72,286.11 1139.82,284.9 1140.93,283.65 1142.03,282.36 1143.14,281.03 1144.24,279.65 1145.35,278.24 1146.46,276.78 1147.56,275.27 1148.67,273.73 1149.77,272.13 1150.88,270.49 1151.99,268.81 1153.09,267.08 1154.2,265.3 1155.3,263.47 1156.41,261.59 1157.51,259.67 1158.62,257.69 1159.73,255.67 1160.83,253.59 1161.94,251.47 1163.04,249.3 1164.15,247.07 1165.26,244.8 1166.36,242.48 1167.47,240.1 1168.57,237.68 1169.68,235.2 1170.78,232.68 1171.89,230.11 1173,227.49 1174.1,224.82 1175.21,222.1 1176.31,219.34 1177.42,216.53 1178.53,213.68 1179.63,210.78 1180.74,207.84 1181.84,204.85 1182.95,201.83 1184.05,198.77 1185.16,195.66 1186.27,192.52 1187.37,189.35 1188.48,186.14 1189.58,182.9 1190.69,179.63 1191.8,176.33 1192.9,173.01 1194.01,169.66 1195.11,166.3 1196.22,162.91 1197.32,159.51 1198.43,156.09 1199.54,152.66 1200.64,149.22 1201.75,145.78 1202.85,142.34 1203.96,138.89 1205.07,135.45 1206.17,132.02 1207.28,128.59 1208.38,125.18 1209.49,121.79 1210.59,118.42 1211.7,115.07 1212.81,111.75 1213.91,108.46 1215.02,105.2 1216.12,101.99 1217.23,98.81 1218.34,95.69 1219.44,92.62 1220.55,89.6 1221.65,86.64 1222.76,83.74 1223.86,80.91 1224.97,78.15 1226.08,75.47 1227.18,72.86 1228.29,70.34 1229.39,67.91 1230.5,65.57 1231.61,63.32 1232.71,61.17 1233.82,59.13 1234.92,57.19 1236.03,55.36 1237.13,53.65 1238.24,52.06 1239.35,50.58 1240.45,49.23 1241.56,48.01 1242.66,46.92 1243.77,45.97 1244.88,45.15 1245.98,44.47 1247.09,43.93 1248.19,43.54 1249.3,43.29 1250.4,43.19 1251.51,43.25 1252.62,43.45 1253.72,43.81 1254.83,44.33 1255.93,45 1257.04,45.83 1258.15,46.82 1259.25,47.96 1260.36,49.27 1261.46,50.73 1262.57,52.35 1263.67,54.13 1264.78,56.07 1265.89,58.16 1266.99,60.41 1268.1,62.81 1269.2,65.37 1270.31,68.07 1271.42,70.92 1272.52,73.92 1273.63,77.05 1274.73,80.33 1275.84,83.75 1276.94,87.29 1278.05,90.97 1279.16,94.76 1280.26,98.68 1281.37,102.72 1282.47,106.86 1283.58,111.12 1284.69,115.47 1285.79,119.92 1286.9,124.46 1288,129.08 1289.11,133.78 1290.21,138.55 1291.32,143.39 1292.43,148.28 1293.53,153.23 1294.64,158.23 1295.74,163.26 1296.85,168.32 1297.96,173.41 1299.06,178.52 1300.17,183.63 1301.27,188.75 1302.38,193.86 1303.48,198.96 1304.59,204.03 1305.7,209.08 1306.8,214.09 1307.91,219.06 1309.01,223.98 1310.12,228.84 1311.23,233.64 1312.33,238.36 1313.44,242.99 1314.54,247.54 1315.65,252 1316.75,256.35 1317.86,260.6 1318.97,264.72 1320.07,268.73 1321.18,272.6 1322.28,276.34 1323.39,279.94 1324.5,283.39 1325.6,286.69 1326.71,289.83 1327.81,292.8 1328.92,295.61 1330.02,298.25 1331.13,300.7 1332.24,302.98 1333.34,305.07 1334.45,306.97 1335.55,308.69 1336.66,310.2 1337.77,311.52 1338.87,312.64 1339.98,313.56 1341.08,314.28 1342.19,314.79 1343.29,315.1 1344.4,315.2 1345.51,315.1 1346.61,314.79 1347.72,314.28 1348.82,313.56 1349.93,312.64 1351.04,311.52 1352.14,310.2 1353.25,308.69 1354.35,306.97 1355.46,305.07 1356.56,302.98 1357.67,300.7 1358.78,298.25 1359.88,295.61 1360.99,292.8 1362.09,289.83 1363.2,286.69 1364.31,283.39 1365.41,279.94 1366.52,276.34 1367.62,272.6 1368.73,268.73 1369.83,264.72 1370.94,260.6 1372.05,256.35 1373.15,252 1374.26,247.54 1375.36,242.99 1376.47,238.36 1377.58,233.64 1378.68,228.84 1379.79,223.98 1380.89,219.06 1382,214.09 1383.1,209.08 1384.21,204.03 1385.32,198.96 1386.42,193.86 1387.53,188.75 1388.63,183.63 1389.74,178.52 1390.85,173.41 1391.95,168.32 1393.06,163.26 1394.16,158.23 1395.27,153.23 1396.37,148.28 1397.48,143.39 1398.59,138.55 1399.69,133.78 1400.8,129.08 1401.9,124.46 1403.01,119.92 1404.12,115.47 1405.22,111.12 1406.33,106.86 1407.43,102.72 1408.54,98.68 1409.64,94.76 1410.75,90.97 1411.86,87.29 1412.96,83.75 1414.07,80.33 1415.17,77.05 1416.28,73.92 1417.38,70.92 1418.49,68.07 1419.6,65.37 1420.7,62.81 1421.81,60.41 1422.91,58.16 1424.02,56.07 1425.13,54.13 1426.23,52.35 1427.34,50.73 1428.44,49.27 1429.55,47.96 1430.65,46.82 1431.76,45.83 1432.87,45 1433.97,44.33 1435.08,43.81 1436.18,43.45 1437.29,43.25 1438.4,43.19 1439.5,43.29 1440.61,43.54 1441.71,43.93 1442.82,44.47 1443.93,45.15 1445.03,45.97 1446.14,46.92 1447.24,48.01 1448.35,49.23 1449.45,50.58 1450.56,52.06 1451.67,53.65 1452.77,55.36 1453.88,57.19 1454.98,59.13 1456.09,61.17 1457.2,63.32 1458.3,65.57 1459.41,67.91 1460.51,70.34 1461.62,72.86 1462.72,75.47 1463.83,78.15 1464.94,80.91 1466.04,83.74 1467.15,86.64 1468.25,89.6 1469.36,92.62 1470.47,95.69 1471.57,98.81 1472.68,101.99 1473.78,105.2 1474.89,108.46 1475.99,111.75 1477.1,115.07 1478.21,118.42 1479.31,121.79 1480.42,125.18 1481.52,128.59 1482.63,132.02 1483.74,135.45 1484.84,138.89 1485.95,142.34 1487.05,145.78 1488.16,149.22 1489.26,152.66 1490.37,156.09 1491.48,159.51 1492.58,162.91 1493.69,166.3 1494.79,169.66 1495.9,173.01 1497.01,176.33 1498.11,179.63 1499.22,182.9 1500.32,186.14 1501.43,189.35 1502.53,192.52 1503.64,195.66 1504.75,198.77 1505.85,201.83 1506.96,204.85 1508.06,207.84 1509.17,210.78 1510.28,213.68 1511.38,216.53 1512.49,219.34 1513.59,222.1 1514.7,224.82 1515.8,227.49 1516.91,230.11 1518.02,232.68 1519.12,235.2 1520.23,237.68 1521.33,240.1 1522.44,242.48 1523.55,244.8 1524.65,247.07 1525.76,249.3 1526.86,251.47 1527.97,253.59 1529.07,255.67 1530.18,257.69 1531.29,259.67 1532.39,261.59 1533.5,263.47 1534.6,265.3 1535.71,267.08 1536.82,268.81 1537.92,270.49 1539.03,272.13 1540.13,273.73 1541.24,275.27 1542.34,276.78 1543.45,278.24 1544.56,279.65 1545.66,281.03 1546.77,282.36 1547.87,283.65 1548.98,284.9 1550.09,286.11 1551.19,287.28 1552.3,288.41 1553.4,289.51 1554.51,290.57 1555.61,291.59 1556.72,292.58 1557.83,293.53 1558.93,294.45 1560.04,295.34 1561.14,296.2 1562.25,297.02 1563.36,297.82 1564.46,298.58 1565.57,299.32 1566.67,300.03 1567.78,300.71 1568.88,301.37 1569.99,302 1571.1,302.61 1572.2,303.19 1573.31,303.75 1574.41,304.28 1575.52,304.8 1576.62,305.29 1577.73,305.77 1578.84,306.22 1579.94,306.66 1581.05,307.07 1582.15,307.47 1583.26,307.85 1584.37,308.22 1585.47,308.56 1586.58,308.9 1587.68,309.22 1588.79,309.52 1589.89,309.81 1591,310.09 1592.11,310.35 1593.21,310.61 1594.32,310.85 1595.42,311.07 1596.53,311.29 1597.64,311.5 1598.74,311.7 1599.85,311.89 1600.95,312.07 1602.06,312.24 1603.16,312.4 1604.27,312.55 1605.38,312.7 1606.48,312.84 1607.59,312.97 1608.69,313.1 1609.8,313.22 1610.91,313.33 1612.01,313.44 1613.12,313.54 1614.22,313.63 1615.33,313.72 1616.43,313.81 1617.54,313.89 1618.65,313.97 1619.75,314.04 1620.86,314.11 1621.96,314.17 1623.07,314.24 1624.18,314.29 1625.28,314.35 1626.39,314.4 1627.49,314.45 1628.6,314.5 1629.71,314.54 1630.81,314.58 1631.92,314.62 1633.02,314.66 1634.13,314.69 1635.23,314.72 1636.34,314.75 1637.45,314.78 1638.55,314.81 1639.66,314.83 1640.76,314.86 1641.87,314.88 1642.98,314.9 1644.08,314.92 1645.19,314.94 1646.29,314.96 1647.4,314.97 1648.5,314.99 1649.61,315 1650.72,315.01 1651.82,315.03 1652.93,315.04 1654.03,315.05 1655.14,315.06 1656.24,315.07 1657.35,315.08 1658.46,315.09 1659.56,315.09 1660.67,315.1 1661.77,315.11 1662.88,315.12 1663.99,315.12 1665.09,315.13 1666.2,315.13 1667.3,315.14 1668.41,315.14 1669.52,315.15 1670.62,315.15 1671.73,315.15 1672.83,315.16 1673.94,315.16 1675.04,315.16 1676.15,315.17"/>
<rect x="1344" y="22.6" width="1" height="425.35" fill="#000" fill-opacity="0.74"/>
<rect x="999.7" y="315" width="688.95" height="1" fill="#000" fill-opacity="0.8"/>
<path d="M1079 448.95L1079 443.35 M1079 21.6L1079 27.2 M1211.7 448.95L1211.7 443.35 M1211.7 21.6L1211.7 27.2 M1344.4 448.95L1344.4 443.35 M1344.4 21.6L1344.4 27.2 M1477.1 448.95L1477.1 443.35 M1477.1 21.6L1477.1 27.2 M1609.8 448.95L1609.8 443.35 M1609.8 21.6L1609.8 27.2 M1012.65 448.95L1012.65 444.55 M1012.65 21.6L1012.65 26 M1045.83 448.95L1045.83 444.55 M1045.83 21.6L1045.83 26 M1112.18 448.95L1112.18 444.55 M1112.18 21.6L1112.18 26 M1145.35 448.95L1145.35 444.55 M1145.35 21.6L1145.35 26 M1178.53 448.95L1178.53 444.55 M1178.53 21.6L1178.53 26 M1244.88 448.95L1244.88 444.55 M1244.88 21.6L1244.88 26 M1278.05 448.95L1278.05 444.55 M1278.05 21.6L1278.05 26 M1311.23 448.95L1311.23 444.55 M1311.23 21.6L1311.23 26 M1377.58 448.95L1377.58 444.55 M1377.58 21.6L1377.58 26 M1410.75 448.95L1410.75 444.55 M1410.75 21.6L1410.75 26 M1443.93 448.95L1443.93 444.55 M1443.93 21.6L1443.93 26 M1510.28 448.95L1510.28 444.55 M1510.28 21.6L1510.28 26 M1543.45 448.95L1543.45 444.55 M1543.45 21.6L1543.45 26 M1576.62 448.95L1576.62 444.55 M1576.62 21.6L1576.62 26 M1642.98 448.95L1642.98 444.55 M1642.98 21.6L1642.98 26 M1676.15 448.95L1676.15 444.55 M1676.15 21.6L1676.15 26 M998.7 389.14L1004.3 389.14 M1689.65 389.14L1684.05 389.14 M998.7 315.2L1004.3 315.2 M1689.65 315.2L1684.05 315.2 M998.7 241.26L1004.3 241.26 M1689.65 241.26L1684.05 241.26 M998.7 167.32L1004.3 167.32 M1689.65 167.32L1684.05 167.32 M998.7 93.38L1004.3 93.38 M1689.65 93.38L1684.05 93.38 M998.7 444.59L1003.1 444.59 M998.7 426.11L1003.1 426.11 M998.7 407.62L1003.1 407.62 M998.7 370.65L1003.1 370.65 M998.7 352.17L1003.1 352.17 M998.7 333.69L1003.1 333.69 M998.7 296.71L1003.1 296.71 M998.7 278.23L1003.1 278.23 M998.7 259.75L1003.1 259.75 M998.7 222.77L1003.1 222.77 M998.7 204.29L1003.1 204.29 M998.7 185.81L1003.1 185.81 M998.7 148.83L1003.1 148.83 M998.7 130.35L1003.1 130.35 M998.7 111.86L1003.1 111.86 M998.7 74.89L1003.1 74.89 M998.7 56.41L1003.1 56.41 M998.7 37.93L1003.1 37.93" stroke="#000" stroke-width="2.4" fill="none"/>
<rect x="998.7" y="21.6" width="690.95" height="427.35" fill="none" stroke="#000" stroke-width="2.7"/>
<text transform="translate(995 399.04) scale(1.01 1.09)" font-size="26.4" text-anchor="end" stroke="#000" stroke-width="0.35" font-family="Liberation Sans, Arial, sans-serif"><tspan dy="2.1">−</tspan><tspan dy="-2.1">0.2</tspan></text>
<text transform="translate(995 325.1) scale(1.01 1.09)" font-size="26.4" text-anchor="end" stroke="#000" stroke-width="0.35" font-family="Liberation Sans, Arial, sans-serif">0.0</text>
<text transform="translate(995 251.16) scale(1.01 1.09)" font-size="26.4" text-anchor="end" stroke="#000" stroke-width="0.35" font-family="Liberation Sans, Arial, sans-serif">0.2</text>
<text transform="translate(995 177.22) scale(1.01 1.09)" font-size="26.4" text-anchor="end" stroke="#000" stroke-width="0.35" font-family="Liberation Sans, Arial, sans-serif">0.4</text>
<text transform="translate(995 103.28) scale(1.01 1.09)" font-size="26.4" text-anchor="end" stroke="#000" stroke-width="0.35" font-family="Liberation Sans, Arial, sans-serif">0.6</text>
<text transform="translate(1693.4 399.04) scale(1.01 1.09)" font-size="26.4" text-anchor="start" stroke="#000" stroke-width="0.35" font-family="Liberation Sans, Arial, sans-serif"><tspan dy="2.1">−</tspan><tspan dy="-2.1">0.2</tspan></text>
<text transform="translate(1693.4 325.1) scale(1.01 1.09)" font-size="26.4" text-anchor="start" stroke="#000" stroke-width="0.35" font-family="Liberation Sans, Arial, sans-serif">0</text>
<text transform="translate(1693.4 251.16) scale(1.01 1.09)" font-size="26.4" text-anchor="start" stroke="#000" stroke-width="0.35" font-family="Liberation Sans, Arial, sans-serif">0.2</text>
<text transform="translate(1693.4 177.22) scale(1.01 1.09)" font-size="26.4" text-anchor="start" stroke="#000" stroke-width="0.35" font-family="Liberation Sans, Arial, sans-serif">0.4</text>
<text transform="translate(1693.4 103.28) scale(1.01 1.09)" font-size="26.4" text-anchor="start" stroke="#000" stroke-width="0.35" font-family="Liberation Sans, Arial, sans-serif">0.6</text>
<text transform="translate(1079 477.1) scale(1.01 1.09)" font-size="26.4" text-anchor="middle" stroke="#000" stroke-width="0.35" font-family="Liberation Sans, Arial, sans-serif"><tspan dy="2.1">−</tspan><tspan dy="-2.1">4</tspan></text>
<text transform="translate(1211.7 477.1) scale(1.01 1.09)" font-size="26.4" text-anchor="middle" stroke="#000" stroke-width="0.35" font-family="Liberation Sans, Arial, sans-serif"><tspan dy="2.1">−</tspan><tspan dy="-2.1">2</tspan></text>
<text transform="translate(1344.4 477.1) scale(1.01 1.09)" font-size="26.4" text-anchor="middle" stroke="#000" stroke-width="0.35" font-family="Liberation Sans, Arial, sans-serif">0</text>
<text transform="translate(1477.1 477.1) scale(1.01 1.09)" font-size="26.4" text-anchor="middle" stroke="#000" stroke-width="0.35" font-family="Liberation Sans, Arial, sans-serif">2</text>
<text transform="translate(1609.8 477.1) scale(1.01 1.09)" font-size="26.4" text-anchor="middle" stroke="#000" stroke-width="0.35" font-family="Liberation Sans, Arial, sans-serif">4</text>
<text x="6.2" y="36.3" font-size="51.5" stroke="#000" stroke-width="0.3" font-family="Liberation Serif, Times New Roman, serif">a</text>
<text x="936.4" y="36.3" font-size="51.5" stroke="#000" stroke-width="0.3" font-family="Liberation Serif, Times New Roman, serif">b</text>
<g fill="#000" color="#000">
<text x="0" y="0" transform="translate(402.22 520.2) scale(1.23 1)" font-size="29.5" font-family="Liberation Serif, serif" font-style="italic" stroke="currentColor" stroke-width="0.25" vector-effect="non-scaling-stroke">σ</text>
<text x="0" y="0" transform="translate(431.04 520) scale(1.07 1)" font-size="34" font-family="Liberation Serif, serif" font-style="italic" stroke="currentColor" stroke-width="0.25" vector-effect="non-scaling-stroke">x</text>
</g>
<rect x="451.4" y="498.5" width="16.2" height="1.5" fill="#000"/>
<g fill="#000" color="#000">
<text x="0" y="0" transform="translate(1320.27 520.2) scale(1.23 1)" font-size="29.5" font-family="Liberation Serif, serif" font-style="italic" stroke="currentColor" stroke-width="0.25" vector-effect="non-scaling-stroke">σ</text>
<text x="0" y="0" transform="translate(1349.09 520) scale(1.07 1)" font-size="34" font-family="Liberation Serif, serif" font-style="italic" stroke="currentColor" stroke-width="0.25" vector-effect="non-scaling-stroke">x</text>
</g>
<rect x="1369.45" y="498.5" width="16.2" height="1.5" fill="#000"/>
<g transform="translate(27 282) rotate(-90)" fill="#800080" color="#800080">
<text x="0" y="0" transform="translate(0.47 0.6) scale(0.87 1)" font-size="33.5" font-family="DejaVu Math TeX Gyre, Latin Modern Math, serif" font-style="normal" stroke="currentColor" stroke-width="0.6" vector-effect="non-scaling-stroke">𝒜</text>
<text x="0" y="0" transform="translate(27.41 3.21) scale(0.82 0.64)" font-size="60" font-weight="200" font-family="DejaVu Sans, sans-serif">(</text>
<text x="0" y="0" transform="translate(42.86 0) scale(1.24 1)" font-size="33.5" font-family="Liberation Serif, serif" font-style="italic" stroke="#fff" stroke-width="0.3" vector-effect="non-scaling-stroke">a</text>
<text x="0" y="0" transform="translate(61.66 0) scale(1.06 1)" font-size="33.5" font-family="Liberation Serif, serif" font-style="normal" stroke="#fff" stroke-width="0.3" vector-effect="non-scaling-stroke">.</text>
<text x="0" y="0" transform="translate(69.25 0) scale(1.35 1)" font-size="33.5" font-family="Liberation Serif, serif" font-style="italic" stroke="#fff" stroke-width="0.3" vector-effect="non-scaling-stroke">u</text>
<text x="0" y="0" transform="translate(90.96 0) scale(1.06 1)" font-size="33.5" font-family="Liberation Serif, serif" font-style="normal" stroke="#fff" stroke-width="0.3" vector-effect="non-scaling-stroke">.</text>
<text x="0" y="0" transform="translate(97.66 3.44) scale(0.79 0.65)" font-size="60" font-weight="200" font-family="DejaVu Sans, sans-serif">)</text>
</g>
<g transform="translate(839 277) rotate(-90)" fill="#ff6c10" color="#ff6c10">
<text x="0" y="0" transform="translate(3.91 0) scale(1.05 1)" font-size="33.5" font-family="Liberation Serif, serif" font-style="italic" stroke="#fff" stroke-width="0.3" vector-effect="non-scaling-stroke">χ</text>
<text x="0" y="0" transform="translate(19.89 3.41) scale(0.8 0.66)" font-size="60" font-weight="200" font-family="DejaVu Sans, sans-serif">(</text>
<text x="0" y="0" transform="translate(34.55 0) scale(1.15 1)" font-size="33.5" font-family="Liberation Serif, serif" font-style="italic" stroke="#fff" stroke-width="0.3" vector-effect="non-scaling-stroke">a</text>
<text x="0" y="0" transform="translate(54.07 0) scale(1.01 1)" font-size="33.5" font-family="Liberation Serif, serif" font-style="normal" stroke="#fff" stroke-width="0.3" vector-effect="non-scaling-stroke">.</text>
<text x="0" y="0" transform="translate(61.59 0) scale(1.33 1)" font-size="33.5" font-family="Liberation Serif, serif" font-style="italic" stroke="#fff" stroke-width="0.3" vector-effect="non-scaling-stroke">u</text>
<text x="0" y="0" transform="translate(83.47 0) scale(1.01 1)" font-size="33.5" font-family="Liberation Serif, serif" font-style="normal" stroke="#fff" stroke-width="0.3" vector-effect="non-scaling-stroke">.</text>
<text x="0" y="0" transform="translate(89.74 3.41) scale(0.76 0.66)" font-size="60" font-weight="200" font-family="DejaVu Sans, sans-serif">)</text>
</g>
<g transform="translate(929.3 317) rotate(-90)" fill="#800080" color="#800080">
<text x="0" y="0" transform="translate(-0.72 0) scale(1.02 1)" font-size="24" font-family="Liberation Serif, serif" font-style="italic">δ</text>
<text x="0" y="0" transform="translate(9.88 0.6) scale(0.87 1)" font-size="23.2" font-family="DejaVu Math TeX Gyre, Latin Modern Math, serif" font-style="normal" stroke="currentColor" stroke-width="0.4" vector-effect="non-scaling-stroke">𝒜</text>
<text x="0" y="0" transform="translate(36.47 14.48) scale(1.1 1.11)" font-size="60" font-weight="200" font-family="DejaVu Sans, sans-serif" stroke="#fff" stroke-width="0.6" vector-effect="non-scaling-stroke">(</text>
<text x="0" y="0" transform="translate(63.95 -15.8) scale(1.04 1)" font-size="23.5" font-family="Liberation Serif, serif" font-style="normal">1</text>
<rect x="58.7" y="-6.45" width="23.4" height="1.1"/>
<text x="0" y="0" transform="translate(58.27 17.6) scale(1.16 1)" font-size="24" font-family="Liberation Serif, serif" font-style="italic">r</text>
<text x="0" y="0" transform="translate(70.35 8.6) scale(1.28 1)" font-size="17" font-family="Liberation Serif, serif" font-style="normal">2</text>
<text x="0" y="0" transform="translate(70.27 23.2) scale(1.24 1)" font-size="17" font-family="Liberation Serif, serif" font-style="italic">a</text>
<text x="0" y="0" transform="translate(90.24 2.07) scale(1.31 1)" font-size="24" font-family="Liberation Serif, serif" font-style="normal">−</text>
<text x="0" y="0" transform="translate(121.88 -15.8) scale(1.03 1)" font-size="23.5" font-family="Liberation Serif, serif" font-style="normal">1</text>
<rect x="117.1" y="-6.45" width="23" height="1.1"/>
<text x="0" y="0" transform="translate(116.67 17.6) scale(1.27 1)" font-size="24" font-family="Liberation Serif, serif" font-style="italic">r</text>
<text x="0" y="0" transform="translate(127.68 8) scale(1.23 1)" font-size="17" font-family="Liberation Serif, serif" font-style="normal">2</text>
<text x="0" y="0" transform="translate(127.45 23.4) scale(1.2 1)" font-size="17" font-family="Liberation Serif, serif" font-style="italic">b</text>
<text x="0" y="0" transform="translate(135.99 14.81) scale(1.13 1.11)" font-size="60" font-weight="200" font-family="DejaVu Sans, sans-serif" stroke="#fff" stroke-width="0.6" vector-effect="non-scaling-stroke">)</text>
<text x="0" y="0" transform="translate(160.87 -27.56) scale(1.45 1)" font-size="17" font-family="Liberation Serif, serif" font-style="normal">−</text>
<text x="0" y="0" transform="translate(175.45 -28.2) scale(1.04 1)" font-size="17" font-family="Liberation Serif, serif" font-style="normal">1</text>
</g>
<g transform="translate(1775 345.5) rotate(-90)" fill="#ff6c10" color="#ff6c10">
<rect x="0.2" y="-18.8" width="1" height="24.7"/>
<text x="0" y="0" transform="translate(3.8 0) scale(0.99 1)" font-size="24" font-family="Liberation Serif, serif" font-style="italic">δ</text>
<text x="0" y="0" transform="translate(18.6 0) scale(1.09 1)" font-size="24" font-family="Liberation Serif, serif" font-style="italic">χ</text>
<rect x="34.6" y="-18.8" width="1" height="24.7"/>
<text x="0" y="0" transform="translate(46.4 -16.9) scale(1.08 1)" font-size="23.5" font-family="Liberation Serif, serif" font-style="normal">4</text>
<text x="0" y="0" transform="translate(58.66 -16.9) scale(0.89 1)" font-size="24" font-family="Liberation Serif, serif" font-style="italic">σ</text>
<text x="0" y="0" transform="translate(72.15 -25.7) scale(1.28 1)" font-size="17" font-family="Liberation Serif, serif" font-style="normal">2</text>
<rect x="45.6" y="-7.15" width="38.7" height="1.1"/>
<text x="0" y="0" transform="translate(51.11 18) scale(0.99 1)" font-size="24" font-family="Liberation Serif, serif" font-style="italic">ω</text>
<text x="0" y="0" transform="translate(66.72 21.1) scale(1.21 1)" font-size="17" font-family="Liberation Serif, serif" font-style="normal">0</text>
<text x="0" y="0" transform="translate(89.95 14.54) scale(1.12 1.12)" font-size="60" font-weight="200" font-family="DejaVu Sans, sans-serif" stroke="#fff" stroke-width="0.6" vector-effect="non-scaling-stroke">(</text>
<text x="0" y="0" transform="translate(118.65 -16.5) scale(0.89 1)" font-size="23.5" font-family="Liberation Serif, serif" font-style="normal">1</text>
<rect x="113.1" y="-6.95" width="22.9" height="1.1"/>
<text x="0" y="0" transform="translate(112.49 17.2) scale(1.35 1)" font-size="24" font-family="Liberation Serif, serif" font-style="italic">r</text>
<text x="0" y="0" transform="translate(122.95 9) scale(1.28 1)" font-size="17" font-family="Liberation Serif, serif" font-style="normal">2</text>
<text x="0" y="0" transform="translate(124.5 23.1) scale(1.37 1)" font-size="17" font-family="Liberation Serif, serif" font-style="italic">a</text>
<text x="0" y="0" transform="translate(144.74 1.07) scale(1.39 1)" font-size="24" font-family="Liberation Serif, serif" font-style="normal">−</text>
<text x="0" y="0" transform="translate(177.2 -16.6) scale(1.11 1)" font-size="23.5" font-family="Liberation Serif, serif" font-style="normal">1</text>
<rect x="172.6" y="-7.15" width="23" height="1.1"/>
<text x="0" y="0" transform="translate(172.95 17.2) scale(1.19 1)" font-size="24" font-family="Liberation Serif, serif" font-style="italic">r</text>
<text x="0" y="0" transform="translate(185.64 8) scale(1.01 1)" font-size="17" font-family="Liberation Serif, serif" font-style="normal">2</text>
<text x="0" y="0" transform="translate(183.38 24) scale(1.14 1)" font-size="17" font-family="Liberation Serif, serif" font-style="italic">b</text>
<text x="0" y="0" transform="translate(192.21 14.44) scale(1.11 1.12)" font-size="60" font-weight="200" font-family="DejaVu Sans, sans-serif" stroke="#fff" stroke-width="0.6" vector-effect="non-scaling-stroke">)</text>
<text x="0" y="0" transform="translate(217.28 -28.96) scale(1.55 1)" font-size="17" font-family="Liberation Serif, serif" font-style="normal">−</text>
<text x="0" y="0" transform="translate(232.48 -29.6) scale(1.02 1)" font-size="17" font-family="Liberation Serif, serif" font-style="normal">1</text>
<rect x="140.3" y="5.9" width="12.8" height="2"/>
</g>
</svg>
</body></html>
